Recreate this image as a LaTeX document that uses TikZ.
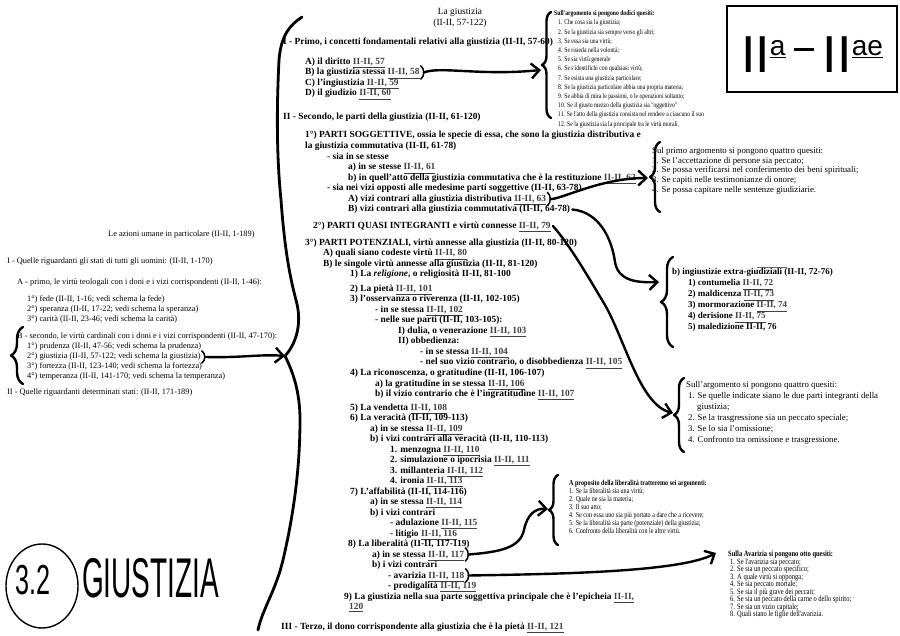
\documentclass[tikz,border=0pt]{standalone}
\usepackage{fontspec}
\setmainfont{Liberation Serif}
\newfontfamily\narrowserif{Liberation Serif}[FakeStretch=0.8]
\newfontfamily\handfont{Liberation Sans}
\usetikzlibrary{arrows.meta,decorations.pathreplacing}
\newcommand{\rif}[1]{\textcolor{black!75}{\underline{#1}}}

\tikzset{
  pen/.style={line width=2.4pt, line cap=round, line join=round},
  graffa/.style={pen, decorate, decoration={brace, amplitude=#1}},
  freccia/.style={pen, -{Straight Barb[length=8pt,width=15pt]}},
  parentesi/.style={line width=1.5pt, line cap=round},
  capo/.style={anchor=west, inner sep=0pt, font=\bfseries\fontsize{9.4}{10}\selectfont,
    text height=7pt, text depth=2pt},
  sinistra/.style={anchor=west, inner sep=0pt, font=\fontsize{8.3}{10}\selectfont,
    text height=6pt, text depth=2pt},
  quesiti/.style={anchor=north west, inner sep=0pt, align=left},
}

\begin{document}
\begin{tikzpicture}[x=1pt,y=-1pt]
   \useasboundingbox[fill=white] (0,0) rectangle (900,636);

   % titolo
   \node[align=center, inner sep=0pt, font=\fontsize{9.4}{11}\selectfont] (titolo) at (460,17.5)
     {La giustizia\\(II-II, 57-122)};

   % colonna centrale
   \node[capo] (primo) at (283,42) {I - Primo, i concetti fondamentali relativi alla giustizia (II-II, 57-60)};
   \node[capo] (diritto) at (305,62) {A) il diritto \rif{II-II, 57}};
   \node[capo] (stessa) at (305,72.5) {B) la giustizia stessa \rif{II-II, 58}};
   \node[capo] (ingiustizia) at (305,83) {C) l'ingiustizia \rif{II-II, 59}};
   \node[capo] (giudizio) at (305,93.5) {D) il giudizio \rif{II-II, 60}};
   \node[capo] (secondo) at (283,117) {II - Secondo, le parti della giustizia (II-II, 61-120)};
   \node[capo] (soggettive) at (305,135) {1°) PARTI SOGGETTIVE, ossia le specie di essa, che sono la giustizia distributiva e};
   \node[capo] (commutativa) at (305,146) {la giustizia commutativa (II-II, 61-78)};
   \node[capo] (inse) at (327,157) {- sia in se stesse};
   \node[capo] (inse61) at (348,167.5) {a) in se stesse \rif{II-II, 61}};
   \node[capo] (restituzione) at (348,178) {b) in quell'atto della giustizia commutativa che è la restituzione \rif{II-II, 62}};
   \node[capo] (nevizi) at (327,188.5) {- sia nei vizi opposti alle medesime parti soggettive (II-II, 63-78)};
   \node[capo] (vizi63) at (348,199) {A) vizi contrari alla giustizia distributiva \rif{II-II, 63}};
   \node[capo] (vizi64) at (348,209.5) {B) vizi contrari alla giustizia commutativa (II-II, 64-78)};
   \node[capo] (integr) at (313,226) {2°) PARTI QUASI INTEGRANTI e virtù connesse \rif{II-II, 79}};
   \node[capo] (potenz) at (305,243) {3°) PARTI POTENZIALI, virtù annesse alla giustizia (II-II, 80-120)};
   \node[capo] (quali) at (323,253.5) {A) quali siano codeste virtù \rif{II-II, 80}};
   \node[capo] (singole) at (323,264) {B) le singole virtù annesse alla giustizia (II-II, 81-120)};
   \node[capo] (religione) at (350,274.5) {1) La \textit{religione}, o religiosità II-II, 81-100};
   \node[capo] (pieta) at (350,289) {2) La pietà \rif{II-II, 101}};
   \node[capo] (osservanza) at (350,299.5) {3) l'osservanza o riverenza (II-II, 102-105)};
   \node[capo] (osstessa) at (375,310) {- in se stessa \rif{II-II, 102}};
   \node[capo] (osparti) at (375,320.5) {- nelle sue parti (II-II, 103-105):};
   \node[capo] (dulia) at (398,331) {I) dulia, o venerazione \rif{II-II, 103}};
   \node[capo] (obbed) at (398,341.5) {II) obbedienza:};
   \node[capo] (obstessa) at (420,352) {- in se stessa \rif{II-II, 104}};
   \node[capo] (disobbed) at (420,362.5) {- nel suo vizio contrario, o disobbedienza \rif{II-II, 105}};
   \node[capo] (ricon) at (350,373) {4) La riconoscenza, o gratitudine (II-II, 106-107)};
   \node[capo] (gratit) at (375,383.5) {a) la gratitudine in se stessa \rif{II-II, 106}};
   \node[capo] (ingrat) at (375,394) {b) il vizio contrario che è l'ingratitudine \rif{II-II, 107}};
   \node[capo] (vendetta) at (350,407.5) {5) La vendetta \rif{II-II, 108}};
   \node[capo] (verac) at (350,418) {6) La veracità (II-II, 109-113)};
   \node[capo] (verstessa) at (370,428.5) {a) in se stessa \rif{II-II, 109}};
   \node[capo] (vervizi) at (370,439) {b) i vizi contrari alla veracità (II-II, 110-113)};
   \node[capo] (menzogna) at (390,449.5) {1. menzogna \rif{II-II, 110}};
   \node[capo] (simul) at (390,460) {2. simulazione o ipocrisia \rif{II-II, 111}};
   \node[capo] (millant) at (390,470.5) {3. millanteria \rif{II-II, 112}};
   \node[capo] (ironia) at (390,481) {4. ironia \rif{II-II, 113}};
   \node[capo] (affab) at (350,491.5) {7) L'affabilità (II-II, 114-116)};
   \node[capo] (affstessa) at (370,502) {a) in se stessa \rif{II-II, 114}};
   \node[capo] (affvizi) at (370,512.5) {b) i vizi contrari};
   \node[capo] (adulaz) at (390,523) {- adulazione \rif{II-II, 115}};
   \node[capo] (litigio) at (390,533.5) {- litigio \rif{II-II, 116}};
   \node[capo] (liberal) at (348,544) {8) La liberalità (II-II, 117-119)};
   \node[capo] (lib117) at (372,554.5) {a) in se stessa \rif{II-II, 117}};
   \node[capo] (libvizi) at (372,565) {b) i vizi contrari};
   \node[capo] (avar118) at (388,575.5) {- avarizia \rif{II-II, 118}};
   \node[capo] (prodig) at (388,586) {- prodigalità \rif{II-II, 119}};
   \node[capo] (epicheia) at (344,596.5) {9) La giustizia nella sua parte soggettiva principale che è l'epicheia \rif{II-II,}};
   \node[capo] (epicheiab) at (349,607) {\rif{120}};
   \node[capo] (terzo) at (281,627) {III - Terzo, il dono corrispondente alla giustizia che è la pietà \rif{II-II, 121}};

   % colonna sinistra
   \node[sinistra] (azioni) at (108,235) {Le azioni umane in particolare (II-II, 1-189)};
   \node[sinistra] (stati) at (7,262) {I - Quelle riguardanti gli stati di tutti gli uomini: (II-II, 1-170)};
   \node[sinistra] (teolog) at (17,283) {A - primo, le virtù teologali con i doni e i vizi corrispondenti (II-II, 1-46):};
   \node[sinistra] (fede) at (27,300) {1°) fede (II-II, 1-16; vedi schema la fede)};
   \node[sinistra] (speranza) at (27,310) {2°) speranza (II-II, 17-22; vedi schema la speranza)};
   \node[sinistra] (carita) at (27,320) {3°) carità (II-II, 23-46; vedi schema la carità)};
   \node[sinistra] (cardinali) at (17,337) {B - secondo, le virtù cardinali con i doni e i vizi corrispondenti (II-II, 47-170):};
   \node[sinistra] (prudenza) at (27,347) {1°) prudenza (II-II, 47-56; vedi schema la prudenza)};
   \node[sinistra] (giust) at (27,357) {2°) giustizia (II-II, 57-122; vedi schema la giustizia)};
   \node[sinistra] (fortezza) at (27,367) {3°) fortezza (II-II, 123-140; vedi schema la fortezza)};
   \node[sinistra] (temperanza) at (27,377) {4°) temperanza (II-II, 141-170; vedi schema la temperanza)};
   \node[sinistra] (determ) at (7,393) {II - Quelle riguardanti determinati stati: (II-II, 171-189)};

   % riquadri dei quesiti
   \node[quesiti, font=\narrowserif\fontsize{7.1}{9.2}\selectfont] (dodici) at (554,10.5)
     {\textbf{Sull'argomento si pongono dodici quesiti:}\\
      \hspace*{4pt}1. Che cosa sia la giustizia;\\
      \hspace*{4pt}2. Se la giustizia sia sempre verso gli altri;\\
      \hspace*{4pt}3. Se essa sia una virtù;\\
      \hspace*{4pt}4. Se risieda nella volontà;\\
      \hspace*{4pt}5. Se sia virtù generale\\
      \hspace*{4pt}6. Se s'identifichi con qualsiasi virtù;\\
      \hspace*{4pt}7. Se esista una giustizia particolare;\\
      \hspace*{4pt}8. Se la giustizia particolare abbia una propria materia;\\
      \hspace*{4pt}9. Se abbia di mira le passioni, o le operazioni soltanto;\\
      \hspace*{4pt}10. Se il giusto mezzo della giustizia sia "oggettivo"\\
      \hspace*{4pt}11. Se l'atto della giustizia consista nel rendere a ciascuno il suo\\
      \hspace*{4pt}12. Se la giustizia sia la principale tra le virtù morali.};
   \node[quesiti, font=\fontsize{8.8}{9.8}\selectfont] (persone) at (652,147)
     {Sul primo argomento si pongono quattro quesiti:\\
      1. Se l'accettazione di persone sia peccato;\\
      2. Se possa verificarsi nel conferimento dei beni spirituali;\\
      3. Se capiti nelle testimonianze di onore;\\
      4. Se possa capitare nelle sentenze giudiziarie.};
   \node[quesiti, font=\bfseries\fontsize{9}{11}\selectfont] (extragiud) at (672,268.5)
     {b) ingiustizie extra-giudiziali (II-II, 72-76)\\
      \hspace*{16pt}1) contumelia \rif{II-II, 72}\\
      \hspace*{16pt}2) maldicenza \rif{II-II, 73}\\
      \hspace*{16pt}3) mormorazione \rif{II-II, 74}\\
      \hspace*{16pt}4) derisione \rif{II-II, 75}\\
      \hspace*{16pt}5) maledizione II-II, 76};
   \node[quesiti, font=\fontsize{8.8}{11}\selectfont] (integranti) at (686,381)
     {Sull'argomento si pongono quattro quesiti:\\
      \hspace*{2pt}1. Se quelle indicate siano le due parti integranti della\\
      \hspace*{11pt}giustizia;\\
      \hspace*{2pt}2. Se la trasgressione sia un peccato speciale;\\
      \hspace*{2pt}3. Se lo sia l'omissione;\\
      \hspace*{2pt}4. Confronto tra omissione e trasgressione.};
   \node[quesiti, font=\narrowserif\fontsize{7.6}{8}\selectfont] (liberargom) at (569,480.5)
     {\textbf{A proposito della liberalità tratteremo sei argomenti:}\\
      1. Se la liberalità sia una virtù;\\
      2. Quale ne sia la materia;\\
      3. Il suo atto;\\
      4. Se con essa uno sia più portato a dare che a ricevere;\\
      5. Se la liberalità sia parte (potenziale) della giustizia;\\
      6. Confronto della liberalità con le altre virtù.};
   \node[quesiti, font=\narrowserif\fontsize{8.1}{7.5}\selectfont] (avarquesiti) at (728,551)
     {\textbf{Sulla Avarizia si pongono otto quesiti:}\\
      \hspace*{2pt}1. Se l'avarizia sia peccato;\\
      \hspace*{2pt}2. Se sia un peccato specifico;\\
      \hspace*{2pt}3. A quale virtù si opponga;\\
      \hspace*{2pt}4. Se sia peccato mortale;\\
      \hspace*{2pt}5. Se sia il più grave dei peccati;\\
      \hspace*{2pt}6. Se sia un peccato della carne o dello spirito;\\
      \hspace*{2pt}7. Se sia un vizio capitale;\\
      \hspace*{2pt}8. Quali siano le figlie dell'avarizia.};
   \draw[line width=0.8pt, black!60] (757,267) -- (787,267);

   % riquadro II-II a mano
   \draw[line width=1.6pt, fill=white] (727,6) rectangle (897,92);
   \node[inner sep=0pt, font=\handfont\fontsize{52}{52}\selectfont] (parte) at (812,55)
     {II\raisebox{17pt}{\fontsize{28}{28}\selectfont\underline{a}}\,\rule[22pt]{20pt}{3pt}\,II\raisebox{17pt}{\fontsize{28}{28}\selectfont\underline{ae}}};

   % scritta a mano in basso
   \draw[line width=1.4pt] (42,586) ellipse [x radius=36, y radius=42];
   \node[inner sep=0pt, font=\handfont\fontsize{42}{42}\selectfont] (numero) at (33,580)
     {\scalebox{0.6}[1]{3.2}};
   \node[anchor=west, inner sep=0pt, font=\handfont\fontsize{56}{56}\selectfont] (nome) at (82,578)
     {\scalebox{0.5}[1]{GIUSTIZIA}};

   % linea centrale a mano
   \coordinate (snodo) at (285,356);
   \draw[pen, line width=2.8pt] (302,17) .. controls (290,25) and (281,35) .. (279,60)
     .. controls (277,100) and (276,150) .. (281,200)
     .. controls (284,240) and (288,270) .. (296,300)
     .. controls (303,325) and (295,345) .. (snodo)
     .. controls (292,370) and (300,390) .. (300,420)
     .. controls (300,480) and (290,530) .. (283,560)
     .. controls (276,590) and (262,610) .. (258,630);

   % graffe
   \draw[graffa=9pt] (551,118) -- (551,12);
   \draw[graffa=10pt] (660,212) -- (660,142);
   \draw[graffa=12pt] (673,347) -- (673,257);
   \draw[graffa=10pt] (684,452) -- (684,378);
   \draw[graffa=9pt] (558,545) -- (558,475);
   \draw[graffa=12pt] (23,384) -- (23,327);

   % parentesi e frecce
   \draw[parentesi] ([shift={(1,-2)}]stessa.north east) .. controls +(4,3) and +(4,-3) .. ([shift={(1,2)}]stessa.south east);
   \draw[freccia] ([xshift=4]stessa.east) .. controls (440,66) and (480,76) .. (541,70);
   \draw[parentesi] ([shift={(1,-2)}]vizi63.north east) .. controls +(4,3) and +(4,-3) .. ([shift={(1,2)}]vizi63.south east);
   \draw[freccia] ([xshift=4]vizi63.east) .. controls (560,200) and (600,178) .. (648,178);
   \draw[freccia] ([xshift=2]vizi64.east) .. controls (600,212) and (612,240) .. (615,262)
     .. controls (618,280) and (635,283) .. (659,282);
   \draw[freccia] ([xshift=2]integr.east) .. controls (570,245) and (590,280) .. (605,305)
     .. controls (625,340) and (640,405) .. (673,413);
   \draw[parentesi] ([shift={(1,-2)}]lib117.north east) .. controls +(4,3) and +(4,-3) .. ([shift={(1,2)}]lib117.south east);
   \draw[freccia] ([xshift=4]lib117.east) .. controls (500,552) and (520,548) .. (524,530)
     .. controls (527,515) and (535,508) .. (548,509);
   \draw[parentesi] ([shift={(1,-2)}]avar118.north east) .. controls +(4,3) and +(4,-3) .. ([shift={(1,2)}]avar118.south east);
   \draw[freccia] ([xshift=4]avar118.east) .. controls (560,574) and (680,572) .. (716,553);
   \draw[parentesi] ([shift={(1,-2)}]giust.north east) .. controls +(4,3) and +(4,-3) .. ([shift={(1,2)}]giust.south east);
   \draw[freccia] ([xshift=5]giust.east) .. controls (240,358) and (262,354) .. (snodo);
 \end{tikzpicture}
\end{document}
